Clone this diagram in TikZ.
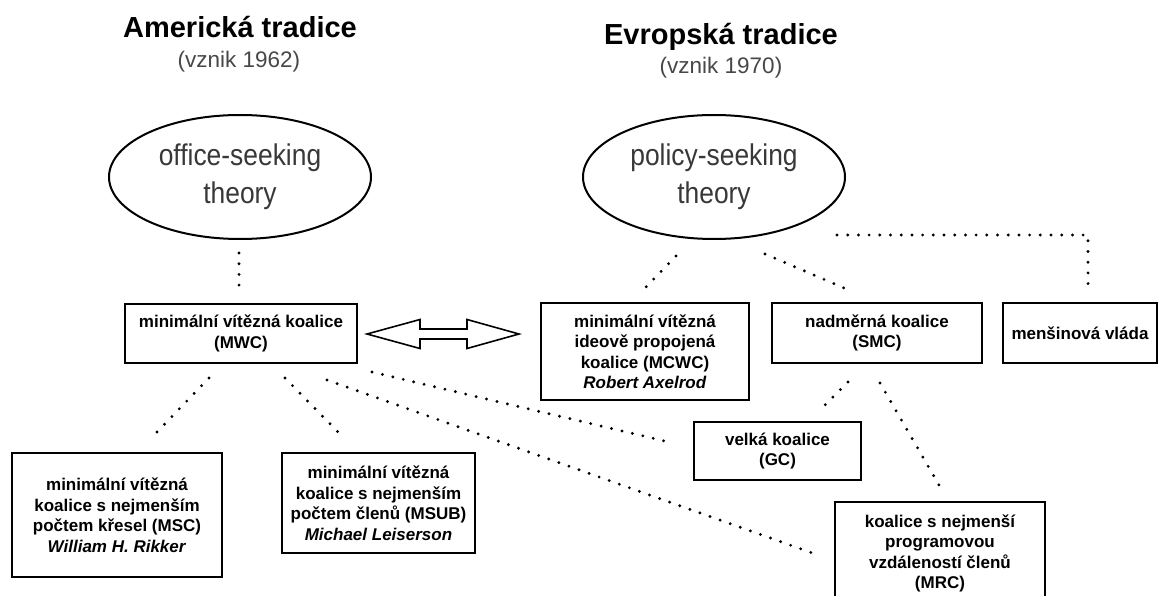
\documentclass[tikz,border=0pt]{standalone}
\usepackage{fontspec}
\setmainfont{Liberation Sans}
\newfontfamily\narrowfont[FakeStretch=0.88]{Liberation Sans}
\usetikzlibrary{shapes.geometric}
\begin{document}
\begin{tikzpicture}[x=1pt,y=-1pt,
  box/.style={draw, line width=1.8pt, inner sep=0pt, align=center,
    font=\bfseries\fontsize{17}{20.5}\selectfont},
  theory/.style={draw, ellipse, line width=2pt, inner sep=0pt,
    minimum width=262pt, minimum height=124pt, align=center,
    font=\narrowfont\fontsize{30}{38}\selectfont, text=black!78},
  head/.style={font=\bfseries\fontsize{29}{34}\selectfont, anchor=base, inner sep=0pt},
  sub/.style={font=\fontsize{22.5}{26}\selectfont, anchor=base, inner sep=0pt, text=black!72},
  dots/.style={line width=3.2pt, line cap=round, dash pattern=on 0pt off 10.7pt}
]
\useasboundingbox (0,0) rectangle (1159,596);
\clip (0,0) rectangle (1159,596);

% headings
\node[head] (am) at (240,38) {Americká tradice};
\node[sub] (amv) at (239,67.5) {(vznik 1962)};
\node[head] (ev) at (721,45) {Evropská tradice};
\node[sub] (evv) at (721,74) {(vznik 1970)};

% theories
\node[theory] (office) at (240,177) {office-seeking\\theory};
\node[theory] (policy) at (714,177) {policy-seeking\\theory};

% boxes
\node[box, minimum width=232pt, minimum height=59pt] (mwc) at (241,333.5)
  {minimální vítězná koalice\\(MWC)};
\node[box, minimum width=208pt, minimum height=97pt] (mcwc) at (645,351.5)
  {minimální vítězná\\ideově propojená\\koalice (MCWC)\\\textit{Robert Axelrod}};
\node[box, minimum width=210pt, minimum height=60pt] (smc) at (877,333)
  {nadměrná koalice\\(SMC)};
\node[box, minimum width=154pt, minimum height=60pt] (mensina) at (1080,333)
  {menšinová vláda};
\node[box, minimum width=210pt, minimum height=124pt] (msc) at (117,515)
  {minimální vítězná\\koalice s nejmenším\\počtem křesel (MSC)\\\textit{William H. Rikker}};
\node[box, minimum width=193pt, minimum height=100pt] (msub) at (378.5,503)
  {minimální vítězná\\koalice s nejmenším\\počtem členů (MSUB)\\\textit{Michael Leiserson}};
\node[box, minimum width=167pt, minimum height=58pt] (gc) at (777.5,451)
  {velká koalice\\(GC)};
\node[box, minimum width=210pt, minimum height=103pt] (mrc) at (940,553.5)
  {koalice s nejmenší\\programovou\\vzdáleností členů\\(MRC)};

% double arrow between MWC and MCWC
\draw[line width=1.6pt, line join=miter]
  (367,334) -- (420,319.5) -- (420,329) -- (467,329) -- (467,319.5) -- (519,334)
  -- (467,348.5) -- (467,339) -- (420,339) -- (420,348.5) -- cycle;

% dotted connector end points
\coordinate (o1) at (239,253);  \coordinate (o2) at (239,287);
\coordinate (p1) at (676,256);  \coordinate (p2) at (645,288);
\coordinate (p3) at (765,254);  \coordinate (p4) at (844,288);
\coordinate (p5) at (837,235);  \coordinate (p6) at (1088,235); \coordinate (p7) at (1088,286);
\coordinate (w1) at (209,378);  \coordinate (w2) at (157,432);
\coordinate (w3) at (285,378);  \coordinate (w4) at (338,432);
\coordinate (w5) at (372,372);  \coordinate (w6) at (673,443);
\coordinate (w7) at (327,380);  \coordinate (w8) at (818,555);
\coordinate (s1) at (848,382);  \coordinate (s2) at (825,405);
\coordinate (s3) at (880,383);  \coordinate (s4) at (939,485);

\draw[dots] (o1) -- (o2);
\draw[dots] (p1) -- (p2);
\draw[dots] (p3) -- (p4);
\draw[dots] (p5) -- (p6) -- (p7);
\draw[dots] (w1) -- (w2);
\draw[dots] (w3) -- (w4);
\draw[dots] (w5) -- (w6);
\draw[dots] (w7) -- (w8);
\draw[dots] (s1) -- (s2);
\draw[dots] (s3) -- (s4);
\end{tikzpicture}
\end{document}
